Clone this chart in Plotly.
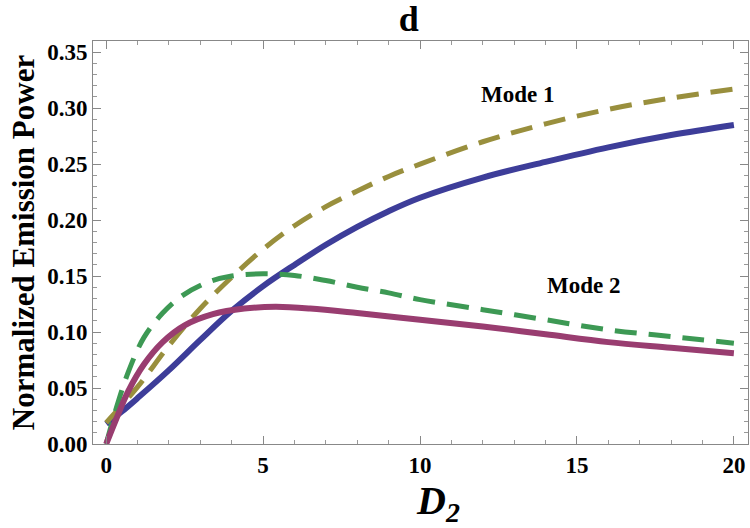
import plotly.graph_objects as go

# Data
blue_x = [0, 0.5, 1, 2, 3, 4, 5, 6, 7, 8, 9, 10, 12, 14, 16, 18, 20]
blue_y = [0.018, 0.029, 0.041, 0.066, 0.093, 0.119, 0.141, 0.160, 0.178, 0.194, 0.208, 0.220, 0.238, 0.252, 0.265, 0.276, 0.285]

gold_x = [0, 1, 2, 3, 4, 5, 6, 7, 8, 9, 10, 12, 14, 16, 18, 20]
gold_y = [0.019, 0.051, 0.088, 0.121, 0.149, 0.174, 0.195, 0.212, 0.226, 0.239, 0.250, 0.270, 0.286, 0.299, 0.309, 0.317]

green_x = [0, 0.3, 0.7, 1.2, 1.8, 2.4, 3.2, 4, 5, 6, 7, 8, 9, 10, 12, 14, 16, 18, 20]
green_y = [0.0, 0.030, 0.064, 0.095, 0.117, 0.132, 0.144, 0.150, 0.152, 0.1505, 0.146, 0.140, 0.135, 0.129, 0.120, 0.111, 0.102, 0.096, 0.090]

magenta_x = [0, 0.3, 0.7, 1.2, 1.8, 2.5, 3.4, 4.4, 5.4, 6.5, 8, 10, 12, 14, 16, 18, 20]
magenta_y = [0.0, 0.021, 0.047, 0.071, 0.091, 0.106, 0.116, 0.121, 0.1225, 0.121, 0.117, 0.111, 0.105, 0.098, 0.091, 0.086, 0.081]

x_ticks = [0, 5, 10, 15, 20]
y_ticks = [0.00, 0.05, 0.10, 0.15, 0.20, 0.25, 0.30, 0.35]

BLUE = "#3D3D99"
GOLD = "#998F3D"
GREEN = "#3D9954"
MAGENTA = "#993D70"
FONT = "Liberation Serif"


def tick_label(s):
    return ("<span style='font-family:Liberation Serif;font-weight:bold;font-size:23px'>"
            + s + "</span>")


fig = go.Figure()
fig.add_trace(go.Scatter(x=blue_x, y=blue_y, mode="lines",
                         line=dict(color=BLUE, width=6, shape="spline", smoothing=1.0)))
fig.add_trace(go.Scatter(x=gold_x, y=gold_y, mode="lines",
                         line=dict(color=GOLD, width=5, shape="spline", smoothing=1.0, dash="22px,12px")))
fig.add_trace(go.Scatter(x=green_x, y=green_y, mode="lines",
                         line=dict(color=GREEN, width=5, shape="spline", smoothing=1.0, dash="22px,12px")))
fig.add_trace(go.Scatter(x=magenta_x, y=magenta_y, mode="lines",
                         line=dict(color=MAGENTA, width=6, shape="spline", smoothing=1.0)))

axis_common = dict(
    showgrid=False, zeroline=False, showline=True, linecolor="#888888", linewidth=1,
    mirror="allticks", ticks="inside", tickcolor="#888888", ticklen=8, tickwidth=1,
    tickfont=dict(family=FONT, size=23, color="black"),
)

fig.update_xaxes(
    range=[-0.42, 20.45], tickvals=x_ticks, ticktext=[tick_label(str(v)) for v in x_ticks],
    minor=dict(dtick=1, ticks="inside", ticklen=4, tickcolor="#999999"),
    **axis_common,
)
fig.update_yaxes(
    range=[0, 0.36], tickvals=y_ticks, ticktext=[tick_label(f"{v:.2f}") for v in y_ticks],
    minor=dict(dtick=0.01, ticks="inside", ticklen=4, tickcolor="#999999"),
    title=dict(text="<b>Normalized Emission Power</b>",
               font=dict(family=FONT, size=31, color="black"), standoff=3),
    **axis_common,
)

fig.add_annotation(x=0.527, y=0.0, xref="paper", yref="paper", yanchor="top", yshift=-32,
                   text="<b><i>D</i></b><b><i><sub>2</sub></i></b>", showarrow=False,
                   font=dict(family=FONT, size=40, color="black"))
fig.add_annotation(x=13.1, y=0.312, text="<b>Mode 1</b>", showarrow=False,
                   font=dict(family=FONT, size=23, color="black"))
fig.add_annotation(x=15.2, y=0.142, text="<b>Mode 2</b>", showarrow=False,
                   font=dict(family=FONT, size=23, color="black"))

fig.update_layout(
    width=750, height=528,
    margin=dict(l=93, r=2, t=41, b=84),
    paper_bgcolor="white", plot_bgcolor="white",
    font=dict(family=FONT, color="black"),
    showlegend=False,
    title=dict(text="<b>d</b>", x=0.545, xanchor="center", y=0.965, yanchor="middle",
               font=dict(family=FONT, size=36, color="black")),
)

fig.write_html("out.html")
